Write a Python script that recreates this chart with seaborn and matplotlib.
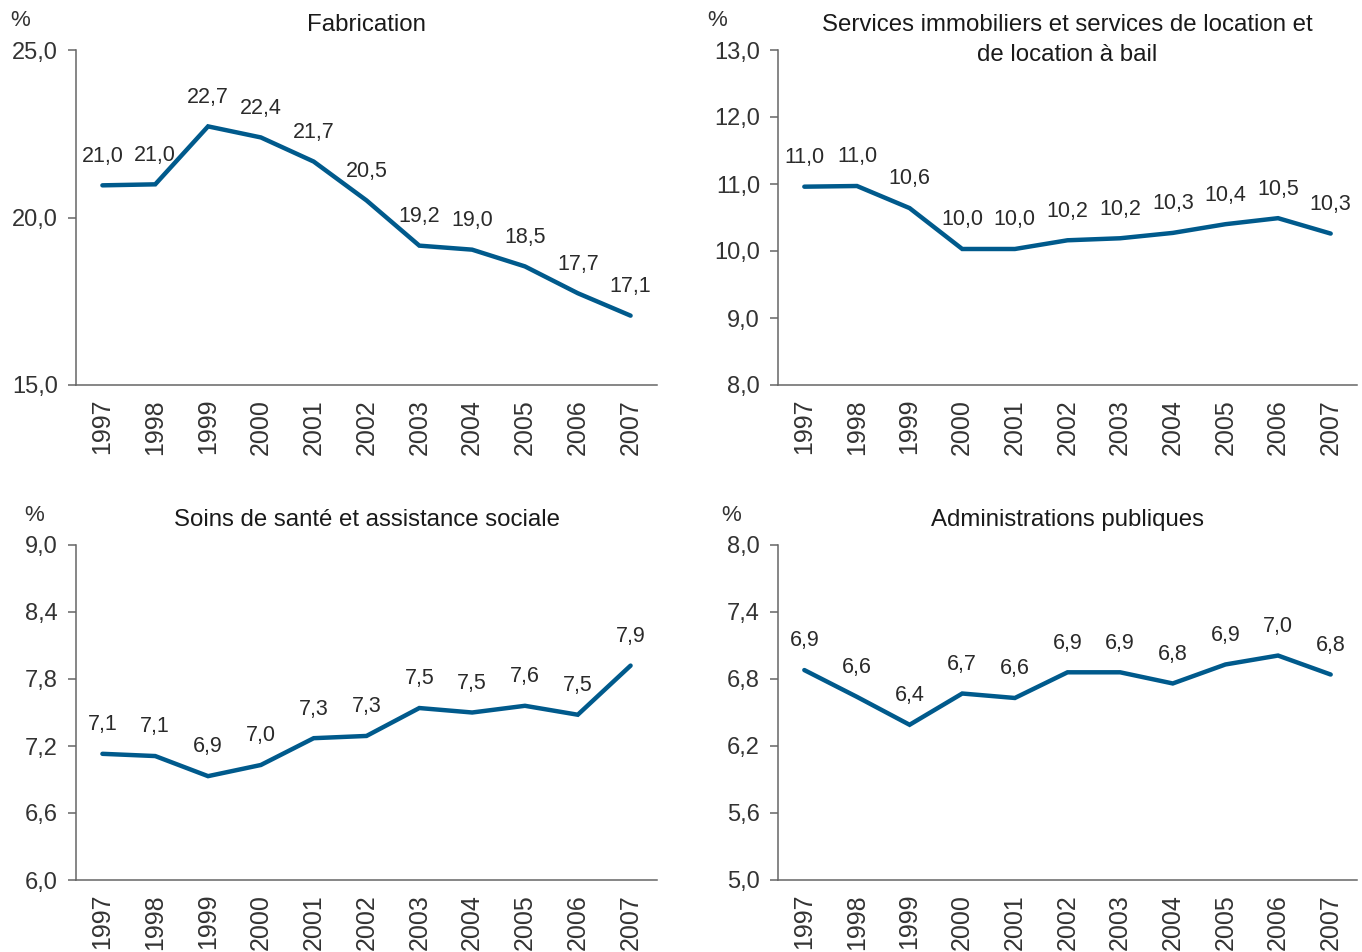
import matplotlib
matplotlib.use("Agg")
import matplotlib.pyplot as plt
import seaborn as sns
import pandas as pd
import numpy as np

years = [1997, 1998, 1999, 2000, 2001, 2002, 2003, 2004, 2005, 2006, 2007]

fabrication = [20.96, 20.99, 22.72, 22.39, 21.67, 20.51, 19.16, 19.04, 18.54, 17.74, 17.07]
services = [10.96, 10.97, 10.64, 10.03, 10.03, 10.16, 10.19, 10.27, 10.40, 10.49, 10.26]
soins = [7.13, 7.11, 6.93, 7.03, 7.27, 7.29, 7.54, 7.50, 7.56, 7.48, 7.92]
admin = [6.88, 6.64, 6.39, 6.67, 6.63, 6.86, 6.86, 6.76, 6.93, 7.01, 6.84]

titles = ["Fabrication",
          "Services immobiliers et services de location et\nde location à bail",
          "Soins de santé et assistance sociale",
          "Administrations publiques"]
series_list = [fabrication, services, soins, admin]
yticks_list = [[15.0, 20.0, 25.0],
               [8.0, 9.0, 10.0, 11.0, 12.0, 13.0],
               [6.0, 6.6, 7.2, 7.8, 8.4, 9.0],
               [5.0, 5.6, 6.2, 6.8, 7.4, 8.0]]

sns.set_style("white")
plt.rcParams['font.family'] = ['Liberation Sans', 'DejaVu Sans']

LINE = "#005a8c"
SPINE = "#666666"
TXT = "#333333"

W, H = 1362, 952
fig = plt.figure(figsize=(W / 100, H / 100), dpi=100)

# axes boxes in pixels: left, top, right, bottom
boxes = [(76, 50, 657, 385), (778, 50, 1357, 385),
         (76, 545, 657, 880), (778, 545, 1357, 880)]
pct_dx = [-56, -61, -42, -47]

def fmt(v):
    return f"{v:.1f}".replace(".", ",")

for i, (box, title, vals, yt) in enumerate(zip(boxes, titles, series_list, yticks_list)):
    l, t, r, b = box
    ax = fig.add_axes([l / W, (H - b) / H, (r - l) / W, (b - t) / H])
    df = pd.DataFrame({"year": years, "value": vals})
    sns.lineplot(data=df, x="year", y="value", ax=ax, color=LINE, linewidth=3.2,
                 solid_capstyle="round", solid_joinstyle="miter")
    ax.set_xlim(1996.5, 2007.5)
    ax.set_ylim(yt[0], yt[-1])
    ax.set_yticks(yt)
    ax.set_yticklabels([fmt(v) for v in yt])
    ax.set_xticks(years)
    ax.set_xticklabels([str(y) for y in years], rotation=90, va="top", ha="center")
    ax.set_xticks([y - 0.5 for y in years] + [2007.5], minor=True)
    ax.tick_params(axis="x", which="major", length=0, pad=10, labelsize=18, labelcolor=TXT)
    ax.tick_params(axis="x", which="minor", length=6, width=1.1, color=SPINE, direction="out")
    ax.tick_params(axis="y", which="major", length=6, width=1.1, color=SPINE, direction="out",
                   pad=7, labelsize=17, labelcolor=TXT, left=True)
    ax.set_xlabel("")
    ax.set_ylabel("")
    for s in ["top", "right"]:
        ax.spines[s].set_visible(False)
    for s in ["left", "bottom"]:
        ax.spines[s].set_color(SPINE)
        ax.spines[s].set_linewidth(1.1)
    for x, v in zip(years, vals):
        ax.annotate(fmt(v), (x, v), xytext=(0, 21), textcoords="offset points",
                    ha="center", va="center", fontsize=15.5, color="#2a2a2a")
    ax.text(0.5, 1 + (50 - 14) / (b - t), title, transform=ax.transAxes,
            ha="center", va="top", fontsize=17.3, color="#1a1a1a", linespacing=1.45)
    ax.text(pct_dx[i] / (r - l), 1 + 29 / (b - t), "%", transform=ax.transAxes,
            ha="center", va="center", fontsize=16, color=TXT)

fig.savefig("out.png", dpi=100, facecolor="white")
